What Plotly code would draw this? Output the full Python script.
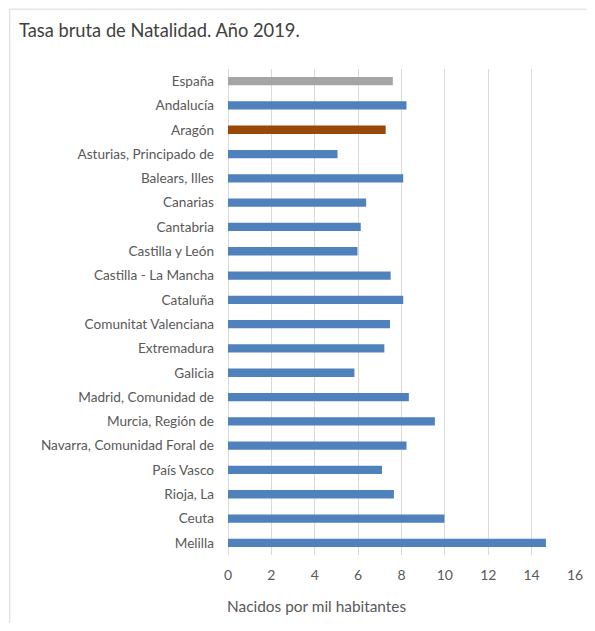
import plotly.graph_objects as go

categories = ["España", "Andalucía", "Aragón", "Asturias, Principado de", "Balears, Illes",
              "Canarias", "Cantabria", "Castilla y León", "Castilla - La Mancha", "Cataluña",
              "Comunitat Valenciana", "Extremadura", "Galicia", "Madrid, Comunidad de",
              "Murcia, Región de", "Navarra, Comunidad Foral de", "País Vasco", "Rioja, La",
              "Ceuta", "Melilla"]
values = [7.60, 8.23, 7.27, 5.05, 8.08, 6.37, 6.12, 5.97, 7.50, 8.08,
          7.47, 7.21, 5.83, 8.34, 9.54, 8.23, 7.10, 7.65, 9.98, 14.66]
x_ticks = [0, 2, 4, 6, 8, 10, 12, 14, 16]
title_text = "Tasa bruta de Natalidad. Año 2019."
x_title = "Nacidos por mil habitantes"

BLUE = "#4f81bd"
colors = []
for c in categories:
    if c == "España":
        colors.append("#a5a5a5")
    elif c == "Aragón":
        colors.append("#984807")
    else:
        colors.append(BLUE)

# page body has an 8px margin; work in figure coordinates (page - 8)
W, H = 587, 615
L, R, T, B = 220.3, 17.3, 61.3, 68
pw, ph = W - L - R, H - T - B

def px_x(x):
    return (x - L) / pw

def px_y(y):
    return (H - B - y) / ph

fig = go.Figure(go.Bar(
    x=values, y=categories, orientation="h",
    marker=dict(color=colors, line=dict(width=0)),
    width=0.34,
))

border = dict(color="#d9d9d9", width=1)
fig.update_layout(
    width=W, height=H,
    margin=dict(l=L, r=R, t=T, b=B, pad=0),
    paper_bgcolor="white", plot_bgcolor="white",
    font=dict(family="Lato", color="#595959", size=13),
    showlegend=False,
    title=dict(text=title_text, xref="container", yref="container",
               x=11 / W, y=1 - 23 / H, xanchor="left", yanchor="middle",
               font=dict(family="Lato", size=18.3, color="#404040")),
    xaxis=dict(range=[0, 16], tickvals=x_ticks, showgrid=True,
               gridcolor="#d9d9d9", gridwidth=1, zeroline=True,
               zerolinecolor="#d9d9d9", zerolinewidth=1, showline=False,
               ticks="", ticklabelstandoff=10, tickfont=dict(size=14, color="#595959")),
    yaxis=dict(autorange="reversed", showgrid=False, zeroline=False, showline=False,
               ticks="", ticklabelstandoff=13, tickfont=dict(size=13.6, color="#595959")),
    annotations=[dict(text=x_title, xref="paper", yref="paper",
                      x=px_x(309), y=px_y(598), xanchor="center", yanchor="middle",
                      showarrow=False, font=dict(size=15.4, color="#595959"))],
    shapes=[
        dict(type="line", xref="paper", yref="paper",
             x0=px_x(0.5), x1=px_x(W + 20), y0=px_y(1.5), y1=px_y(1.5),
             line=border, layer="below"),
        dict(type="line", xref="paper", yref="paper",
             x0=px_x(0.5), x1=px_x(0.5), y0=px_y(1.5), y1=px_y(H + 20),
             line=border, layer="below"),
    ],
)

fig.write_html("out.html")
